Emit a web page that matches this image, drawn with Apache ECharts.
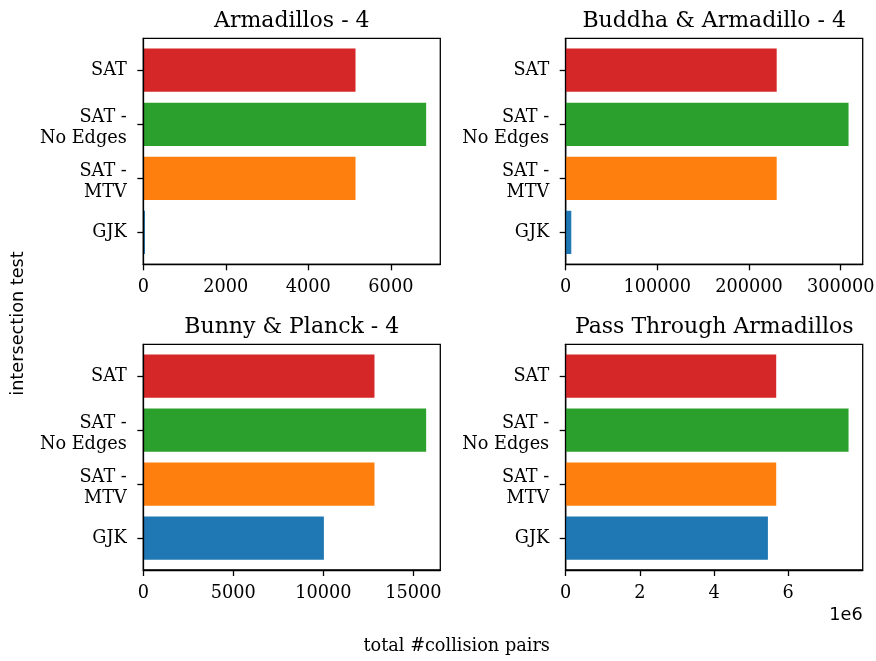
<!DOCTYPE html>
<html>
<head>
<meta charset="utf-8">
<script src="https://cdn.jsdelivr.net/npm/echarts@6/dist/echarts.min.js"></script>
<style>
  html, body { margin: 0; padding: 0; background: #fff; }
  #chart { width: 876px; height: 661px; }
</style>
</head>
<body>
<div id="chart"></div>
<script>
// Categories listed bottom to top, as on the y axis
const categories = ['GJK', 'SAT -\nMTV', 'SAT -\nNo Edges', 'SAT'];
const barColors = ['#1f77b4', '#ff7f0e', '#2ca02c', '#d62728'];

const panelTitles = ['Armadillos - 4', 'Buddha & Armadillo - 4', 'Bunny & Planck - 4', 'Pass Through Armadillos'];

// total collision pairs per intersection test (same order as categories)
const armadillos      = [40, 5143, 6855, 5143];
const buddhaArmadillo = [6100, 230200, 308600, 230200];
const bunnyPlanck     = [10030, 12840, 15710, 12840];
const passThrough     = [5453000, 5677000, 7628000, 5677000];

// x tick values per panel
const ticksArmadillos = [0, 2000, 4000, 6000];
const ticksBuddha     = [0, 100000, 200000, 300000];
const ticksBunny      = [0, 5000, 10000, 15000];
const ticksPass       = [0, 2000000, 4000000, 6000000];

const panelValues = [armadillos, buddhaArmadillo, bunnyPlanck, passThrough];
const panelTicks = [ticksArmadillos, ticksBuddha, ticksBunny, ticksPass];
const tickScale = [1, 1, 1, 1e6];

// plot frames (axes boxes)
const frames = [
  { left: 143.3, top: 38.3,  width: 297, height: 226 },
  { left: 565.7, top: 38.3,  width: 297, height: 226 },
  { left: 143.3, top: 344.3, width: 297, height: 225.7 },
  { left: 565.7, top: 344.3, width: 297, height: 225.7 }
];

const SERIF = 'DejaVu Serif';
const SANS = 'DejaVu Sans';
const FS = 17.7;
const TITLE_FS = 22;
const LW = 1.3;
const INK = '#000';

// y range of bar axes: bars of height 0.8 at 0..3 plus 5% margin
const yPad = 0.09, ySpan = 4.18;

// two-line category labels sit slightly lower than single-line ones
function categoryLabel(name) {
  const lines = name.split('\n');
  if (lines.length === 1) return '{ln|' + name + '}';
  return '{sp| }\n' + lines.map(l => '{ln|' + l + '}').join('\n');
}

const grids = [], xAxes = [], yAxes = [], series = [], graphics = [];

frames.forEach((f, i) => {
  const vals = panelValues[i];
  const xMax = Math.max(...vals) * 1.05;
  const unit = f.height / ySpan;

  // frame grid: box, x axis ticks and labels
  grids.push({ left: f.left, top: f.top, width: f.width, height: f.height,
    show: true, borderColor: INK, borderWidth: LW, backgroundColor: 'transparent',
    outerBoundsMode: 'none' });
  // bar grid: category bands of the inner range
  grids.push({ left: f.left, top: f.top + yPad * unit, width: f.width, height: 4 * unit,
    show: false, outerBoundsMode: 'none' });

  const gFrame = 2 * i, gBars = 2 * i + 1;
  const sc = tickScale[i];

  xAxes.push({
    gridIndex: gFrame, type: 'value', min: 0, max: xMax, z: 5,
    axisLine: { show: true, onZero: false, lineStyle: { color: INK, width: LW } },
    axisTick: { show: true, length: 6, customValues: panelTicks[i], lineStyle: { color: INK, width: LW } },
    axisLabel: { show: true, customValues: panelTicks[i], fontFamily: SERIF, fontSize: FS, color: INK, margin: 14,
      formatter: v => String(v / sc) },
    splitLine: { show: false }
  });
  yAxes.push({
    gridIndex: gFrame, type: 'value', min: 0, max: 1, z: 5,
    axisLine: { show: true, onZero: false, lineStyle: { color: INK, width: LW } },
    axisTick: { show: false }, axisLabel: { show: false }, splitLine: { show: false }
  });

  xAxes.push({ gridIndex: gBars, type: 'value', min: 0, max: xMax, show: false });
  yAxes.push({
    gridIndex: gBars, type: 'category', data: categories,
    axisLine: { show: false },
    axisTick: { show: true, alignWithLabel: true, length: 6, lineStyle: { color: INK, width: LW } },
    axisLabel: {
      fontFamily: SERIF, fontSize: FS, color: INK, align: 'right', margin: 16.5,
      formatter: categoryLabel,
      rich: {
        ln: { fontFamily: SERIF, fontSize: FS, color: INK, lineHeight: 21, align: 'right' },
        sp: { fontSize: 4, lineHeight: 8 }
      }
    },
    splitLine: { show: false }
  });

  series.push({
    type: 'bar', xAxisIndex: 2 * i + 1, yAxisIndex: 2 * i + 1,
    barWidth: '80%', z: 2,
    data: vals.map((v, k) => ({ value: v, itemStyle: { color: barColors[k] } }))
  });

  graphics.push({
    type: 'text', x: f.left + f.width / 2, y: f.top - 17.5,
    style: { text: panelTitles[i], font: `${TITLE_FS}px "${SERIF}"`, fill: INK, align: 'center', verticalAlign: 'middle' }
  });
});

// offset label of the last panel's x axis
graphics.push({ type: 'text', x: 862.7, y: 615,
  style: { text: '1e6', font: `${FS}px "${SANS}"`, fill: INK, align: 'right', verticalAlign: 'middle' } });
// shared axis titles
graphics.push({ type: 'text', x: 456.7, y: 646.5,
  style: { text: 'total #collision pairs', font: `${FS}px "${SERIF}"`, fill: INK, align: 'center', verticalAlign: 'middle' } });
graphics.push({ type: 'text', x: 18.5, y: 323.5, rotation: Math.PI / 2,
  style: { text: 'intersection test', font: `${FS}px "${SANS}"`, fill: INK, align: 'center', verticalAlign: 'middle' } });

const chart = echarts.init(document.getElementById('chart'), null, { renderer: 'canvas' });
chart.setOption({
  backgroundColor: '#fff',
  animation: false,
  grid: grids,
  xAxis: xAxes,
  yAxis: yAxes,
  series: series,
  graphic: graphics
});
</script>
</body>
</html>
